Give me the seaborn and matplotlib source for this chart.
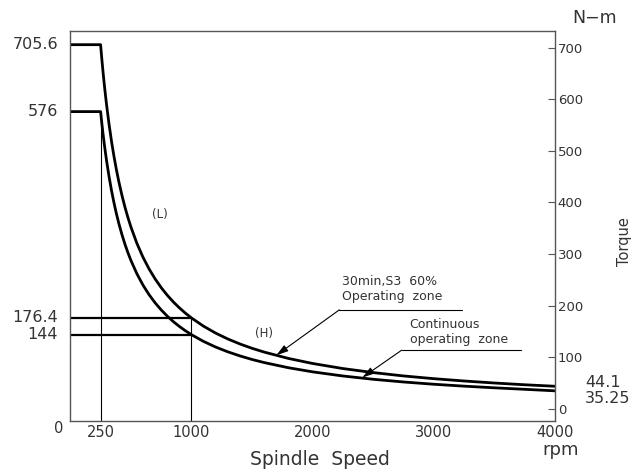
import matplotlib
matplotlib.use("Agg")
import matplotlib.pyplot as plt
import matplotlib.transforms as mtransforms
import seaborn as sns
import pandas as pd

# ---- data ----
speed = [0, 250, 260, 270, 280, 290, 300, 320, 340, 360, 380, 400, 425, 450, 475, 500, 550, 600,
         650, 700, 750, 800, 850, 900, 950, 1000, 1100, 1200, 1300, 1400, 1500, 1600, 1800, 2000,
         2250, 2500, 2750, 3000, 3250, 3500, 3750, 4000]
torque_high = [705.6, 705.6, 678.5, 653.3, 630.0, 608.3, 588.0, 551.3, 518.8, 490.0, 464.2, 441.0,
               415.1, 392.0, 371.4, 352.8, 320.7, 294.0, 271.4, 252.0, 235.2, 220.5, 207.5, 196.0,
               185.7, 176.4, 160.4, 147.0, 135.7, 126.0, 117.6, 110.3, 98.0, 88.2, 78.4, 70.6, 64.1,
               58.8, 54.3, 50.4, 47.0, 44.1]
torque_low = [576.0, 576.0, 553.8, 533.3, 514.3, 496.6, 480.0, 450.0, 423.5, 400.0, 378.9, 360.0,
              338.8, 320.0, 303.2, 288.0, 261.8, 240.0, 221.5, 205.7, 192.0, 180.0, 169.4, 160.0,
              151.6, 144.0, 130.9, 120.0, 110.8, 102.9, 96.0, 90.0, 80.0, 72.0, 64.0, 57.6, 52.4,
              48.0, 44.3, 41.1, 38.2, 35.25]

left_marks = [705.6, 576, 176.4, 144]
x_ticks = [250, 1000, 2000, 3000, 4000]
y_ticks = [0, 100, 200, 300, 400, 500, 600, 700]
ref_speeds = [250, 1000]
ref_torques = [176.4, 144]

df = pd.concat([
    pd.DataFrame({"speed": speed, "torque": torque_high, "curve": "H"}),
    pd.DataFrame({"speed": speed, "torque": torque_low, "curve": "L"}),
])

sns.set_theme(style="white")
plt.rcParams["font.family"] = ["DejaVu Sans"]
txt = "#333333"

fig = plt.figure(figsize=(6.39, 4.74), dpi=100)
ax = fig.add_axes([0.110, 0.112, 0.7585, 0.8225])

sns.lineplot(data=df, x="speed", y="torque", hue="curve", palette={"H": "black", "L": "black"},
             linewidth=2.0, legend=False, ax=ax, sort=False, estimator=None)

# reference lines
ax.plot([ref_speeds[0], ref_speeds[0]], [-23, left_marks[1]], color="black", lw=0.8)
ax.plot([ref_speeds[1], ref_speeds[1]], [-23, ref_torques[0]], color="black", lw=0.8)
for t in ref_torques:
    ax.plot([0, ref_speeds[1]], [t, t], color="black", lw=1.6)

ax.set_xlim(0, 4000)
ax.set_ylim(-23, 732)

# axes styling
for s in ax.spines.values():
    s.set_color("#555555")
    s.set_linewidth(1.0)
ax.yaxis.tick_right()
ax.set_yticks(y_ticks)
ax.set_xticks(x_ticks)
ax.tick_params(axis="y", direction="in", length=5, width=0.8, color="#555555", labelsize=9.5,
               labelcolor=txt, pad=2)
ax.tick_params(axis="x", direction="in", length=4, width=0.8, color="#555555", labelsize=10.5,
               labelcolor=txt, pad=3)
ax.set_xlabel("")
ax.set_ylabel("")

# left-side value labels
trans = mtransforms.blended_transform_factory(ax.transAxes, ax.transData)
for v in left_marks:
    lab = f"{v:g}"
    ax.text(-0.025, v, lab, transform=trans, ha="right", va="center", fontsize=11.5, color=txt)
ax.text(-0.014, -23, "0", transform=trans, ha="right", va="top", fontsize=10.5, color=txt)

# right-side end values
ax.text(1.062, 52, "44.1", transform=trans, ha="left", va="center", fontsize=11.5, color=txt)
ax.text(1.062, 21, "35.25", transform=trans, ha="left", va="center", fontsize=11.5, color=txt)

# curve labels
ax.text(740, 376, "(L)", fontsize=8.5, color=txt, ha="center", va="center")
ax.text(1600, 147, "(H)", fontsize=8.5, color=txt, ha="center", va="center")

# callouts
ax.text(2240, 232, "30min,S3  60%\nOperating  zone", fontsize=9, color=txt, ha="left", va="center",
        linespacing=1.2)
ax.plot([2220, 3230], [192, 192], color="black", lw=0.8)
ax.annotate("", xy=(1700, 104), xytext=(2220, 192),
            arrowprops=dict(arrowstyle="-|>,head_length=0.6,head_width=0.18", color="black", lw=0.8,
                            shrinkA=0, shrinkB=0))
ax.text(2800, 150, "Continuous\noperating  zone", fontsize=9, color=txt, ha="left", va="center",
        linespacing=1.2)
ax.plot([2735, 3720], [114, 114], color="black", lw=0.8)
ax.annotate("", xy=(2410, 61), xytext=(2735, 114),
            arrowprops=dict(arrowstyle="-|>,head_length=0.6,head_width=0.18", color="black", lw=0.8,
                            shrinkA=0, shrinkB=0))

# axis titles
fig.text(0.877, 0.050, "rpm", fontsize=13, color=txt, ha="center", va="center")
fig.text(0.50, 0.030, "Spindle  Speed", fontsize=13.5, color=txt, ha="center", va="center")
fig.text(0.93, 0.962, "N\u2212m", fontsize=12.5, color=txt, ha="center", va="center")
fig.text(0.977, 0.49, "Torque", fontsize=10.5, color=txt, ha="center", va="center", rotation=90)

fig.savefig("out.png", dpi=100)
